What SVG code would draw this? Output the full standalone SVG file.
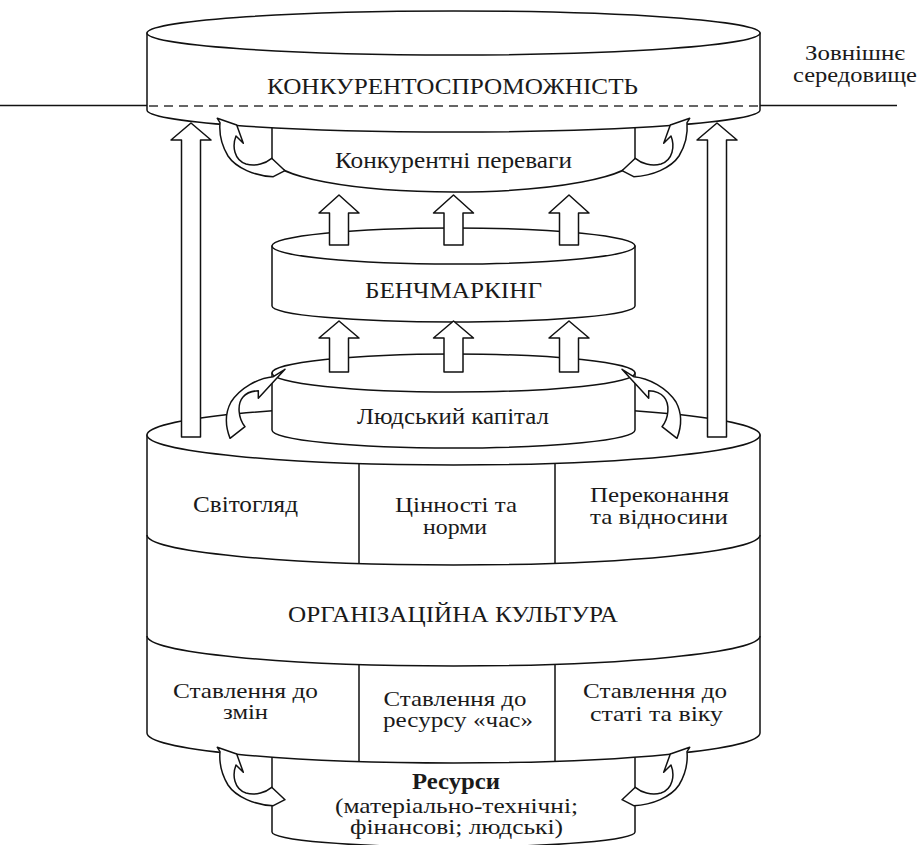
<svg xmlns="http://www.w3.org/2000/svg" width="920" height="845" viewBox="0 0 920 845">
<style>
.s{fill:#fff;stroke:#111;stroke-width:1.5;stroke-linejoin:round}
.l{fill:none;stroke:#111;stroke-width:1.5}
.d{fill:none;stroke:#333;stroke-width:1.3;stroke-dasharray:9,6}
text{font-family:"Liberation Serif","Times New Roman","DejaVu Serif",serif;font-size:24px;fill:#1a1a1a;text-anchor:middle}
.c{font-size:22px}
.b{font-weight:bold}
</style>
<defs>
<path id="ca" class="s" d="M217.3,118.3 L236.7,125 L243.3,143.3 L236,136 C232,146 234,160 246,164 C256,167 266,163 271.7,158.3 L285,170.7 L273.3,176.7 C255,176 236,168 228,156 C222,146 219,134 220,122.7 Z"/>
<path id="cb" class="s" d="M285,369.3 L273.3,376.7 C258,378 240,388 231,402 C224,415 226,428 230,438.3 L245,426.7 C238,418 237,404 243,397 C247,392 252,391 258.3,390.7 L258.3,398.3 Z"/>
</defs>

<g id="resources">
<path class="s" d="M272,740 L272,832 A181.5,15 0 0 0 635,832 L635,740 Z"/>
<text class="b" x="456" y="789" textLength="88" lengthAdjust="spacingAndGlyphs">Ресурси</text>
<text class="c" x="456.5" y="813" textLength="243" lengthAdjust="spacingAndGlyphs">(матеріально-технічні;</text>
<text class="c" x="456.5" y="834" textLength="213" lengthAdjust="spacingAndGlyphs">фінансові; людські)</text>
</g>

<g id="culture">
<path class="s" d="M147,435 L147,733 A306.5,30 0 0 0 760,733 L760,435 Z"/>
<ellipse class="s" cx="453.5" cy="435" rx="306.5" ry="30"/>
<path class="l" d="M147,535 A306.5,30 0 0 0 760,535"/>
<path class="l" d="M147,636 A306.5,30 0 0 0 760,636"/>
<path class="l" d="M359,463.5 V563.5 M555,463.3 V563.3 M359,664.5 V761.5 M555,664.3 V761.3"/>
<text x="245.5" y="512" textLength="105" lengthAdjust="spacingAndGlyphs">Світогляд</text>
<text class="c" x="456" y="512" textLength="122" lengthAdjust="spacingAndGlyphs">Цінності та</text>
<text class="c" x="455" y="534" textLength="64" lengthAdjust="spacingAndGlyphs">норми</text>
<text class="c" x="659.5" y="502" textLength="139" lengthAdjust="spacingAndGlyphs">Переконання</text>
<text class="c" x="659" y="524" textLength="138" lengthAdjust="spacingAndGlyphs">та відносини</text>
<text x="453" y="622" textLength="330" lengthAdjust="spacingAndGlyphs">ОРГАНІЗАЦІЙНА КУЛЬТУРА</text>
<text class="c" x="245.5" y="698" textLength="145" lengthAdjust="spacingAndGlyphs">Ставлення до</text>
<text class="c" x="245.5" y="719" textLength="45" lengthAdjust="spacingAndGlyphs">змін</text>
<text class="c" x="455" y="706" textLength="143" lengthAdjust="spacingAndGlyphs">Ставлення до</text>
<text class="c" x="458" y="727" textLength="150" lengthAdjust="spacingAndGlyphs">ресурсу «час»</text>
<text class="c" x="655" y="698" textLength="144" lengthAdjust="spacingAndGlyphs">Ставлення до</text>
<text class="c" x="656.5" y="721" textLength="133" lengthAdjust="spacingAndGlyphs">статі та віку</text>
</g>

<g id="human-capital">
<path class="s" d="M272,373 L272,430 A181.5,18 0 0 0 635,430 L635,373 Z"/>
<ellipse class="s" cx="453.5" cy="373" rx="181.5" ry="19"/>
<text x="453" y="424" textLength="192" lengthAdjust="spacingAndGlyphs">Людський капітал</text>
</g>

<g id="benchmarking">
<path class="s" d="M272,246 L272,306 A181.5,16 0 0 0 635,306 L635,246 Z"/>
<ellipse class="s" cx="453.5" cy="246" rx="181.5" ry="18"/>
<text x="453.5" y="298" textLength="177" lengthAdjust="spacingAndGlyphs">БЕНЧМАРКІНГ</text>
</g>

<g id="advantages">
<path class="s" d="M272,126 L272,158 A181.5,34 0 0 0 635,158 L635,126 Z"/>
<text x="453.5" y="168" textLength="237" lengthAdjust="spacingAndGlyphs">Конкурентні переваги</text>
</g>

<g id="competitiveness">
<path class="s" d="M147,33 L147,110 A306.5,22 0 0 0 760,110 L760,33 Z"/>
<ellipse class="s" cx="453.5" cy="33" rx="306.5" ry="22"/>
<line class="d" x1="149" y1="106" x2="758" y2="106"/>
<text x="452.5" y="94" textLength="371" lengthAdjust="spacingAndGlyphs">КОНКУРЕНТОСПРОМОЖНІСТЬ</text>
</g>

<g id="environment">
<path class="l" d="M0,105.5 H147 M760,105.5 H897"/>
<text class="c" x="855" y="60" textLength="100" lengthAdjust="spacingAndGlyphs">Зовнішнє</text>
<text class="c" x="855" y="82" textLength="124" lengthAdjust="spacingAndGlyphs">середовище</text>
</g>

<g id="connectors">
<polygon class="s" points="191,123 211,140 200.5,140 200.5,437 181.5,437 181.5,140 171,140"/>
<polygon class="s" points="717,123 737,140 726.5,140 726.5,437 707.5,437 707.5,140 697,140"/>
<polygon class="s" points="339,195 359,213 348.5,213 348.5,245 329.5,245 329.5,213 319,213"/>
<polygon class="s" points="453.5,195 473.5,213 463,213 463,245 444,245 444,213 433.5,213"/>
<polygon class="s" points="569,195 589,213 578.5,213 578.5,245 559.5,245 559.5,213 549,213"/>
<polygon class="s" points="339,321 359,338 348.5,338 348.5,372 329.5,372 329.5,338 319,338"/>
<polygon class="s" points="453.5,321 473.5,338 463,338 463,372 444,372 444,338 433.5,338"/>
<polygon class="s" points="569,321 589,338 578.5,338 578.5,372 559.5,372 559.5,338 549,338"/>
<use href="#ca"/>
<use href="#ca" transform="translate(907,0) scale(-1,1)"/>
<use href="#ca" transform="translate(0,629)"/>
<use href="#ca" transform="translate(907,629) scale(-1,1)"/>
<use href="#cb"/>
<use href="#cb" transform="translate(907,0) scale(-1,1)"/>
</g>
</svg>
